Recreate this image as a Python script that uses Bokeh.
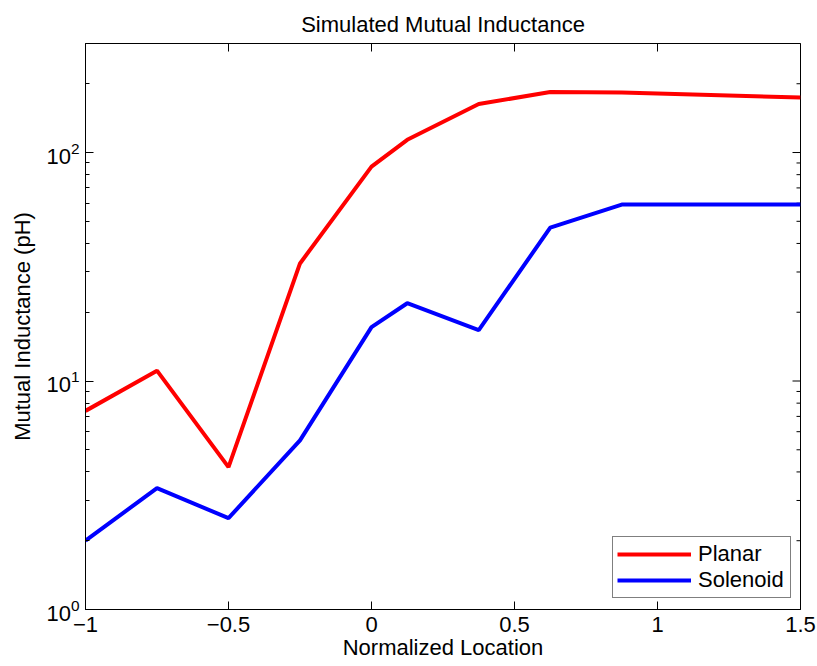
import math
from bokeh.plotting import figure
from bokeh.models import FixedTicker, Legend, LegendItem, Range1d
from bokeh.embed import file_html
from bokeh.resources import INLINE

# ---- data ----
x_location = [-1.0, -0.75, -0.5, -0.25, 0.0, 0.125, 0.375, 0.625, 0.875, 1.5]
planar = [7.4, 11.1, 4.2, 32.7, 86.8, 113.7, 163.0, 184.0, 183.0, 174.0]
solenoid = [2.0, 3.4, 2.51, 5.5, 17.2, 21.9, 16.7, 46.9, 59.2, 59.2]

x_ticks = [-1, -0.5, 0, 0.5, 1, 1.5]
y_ticks = [1, 10, 100]
y_minor_ticks = [2, 3, 4, 5, 6, 7, 8, 9, 20, 30, 40, 50, 60, 70, 80, 90, 200, 300]

X_MIN, X_MAX = -1, 1.5
Y_MIN, Y_MAX = 1, 300

FONT = "Liberation Sans"
FS = "22px"

p = figure(width=817, height=666, y_axis_type="log",
           x_range=Range1d(X_MIN, X_MAX), y_range=Range1d(Y_MIN, Y_MAX),
           output_backend="svg", toolbar_location=None,
           min_border_left=85, min_border_right=17,
           min_border_top=43, min_border_bottom=57)

p.title.text = "Simulated Mutual Inductance"
p.title.align = "center"
p.title.text_font = FONT
p.title.text_font_size = FS
p.title.text_font_style = "normal"
p.title.text_color = "black"
p.title.standoff = 14

p.xgrid.visible = False
p.ygrid.visible = False
p.outline_line_color = "black"
p.outline_line_width = 1
p.background_fill_color = "white"
p.border_fill_color = "white"


def style_axis(ax):
    ax.axis_line_color = "black"
    ax.axis_line_width = 1
    ax.major_tick_in = 8
    ax.major_tick_out = 0
    ax.minor_tick_in = 4
    ax.minor_tick_out = 0
    ax.major_tick_line_color = "black"
    ax.minor_tick_line_color = "black"
    ax.major_label_text_font = FONT
    ax.major_label_text_font_size = FS
    ax.major_label_text_color = "black"
    ax.axis_label_text_font = FONT
    ax.axis_label_text_font_size = FS
    ax.axis_label_text_font_style = "normal"
    ax.axis_label_text_color = "black"


xa = p.xaxis[0]
xa.ticker = FixedTicker(ticks=x_ticks, minor_ticks=[])
xa.axis_label = "Normalized Location"
style_axis(xa)
xa.major_label_standoff = 7
xa.axis_label_standoff = 0

ya = p.yaxis[0]
ya.ticker = FixedTicker(ticks=y_ticks, minor_ticks=y_minor_ticks)
ya.axis_label = "Mutual Inductance (pH)"
style_axis(ya)
ya.major_label_standoff = 6
ya.axis_label_standoff = 8

# mirrored ticks on the top and right edges (half of each dash is clipped by the frame)
p.scatter(x_ticks, [Y_MAX] * len(x_ticks), marker="dash", size=16, angle=math.pi / 2,
          line_color="black", line_width=1)
p.scatter([X_MAX] * len(y_ticks), y_ticks, marker="dash", size=16,
          line_color="black", line_width=1)
p.scatter([X_MAX] * len(y_minor_ticks), y_minor_ticks, marker="dash", size=8,
          line_color="black", line_width=1)

r1 = p.line(x_location, planar, line_color="#ff0000", line_width=4)
r2 = p.line(x_location, solenoid, line_color="#0000ff", line_width=4)

legend = Legend(items=[LegendItem(label="Planar", renderers=[r1]),
                       LegendItem(label="Solenoid", renderers=[r2])],
                location=(527, 11))
legend.glyph_width = 74
legend.glyph_height = 20
legend.label_standoff = 7
legend.label_width = 88
legend.padding = 4
legend.spacing = 0
legend.margin = 0
legend.border_line_color = "black"
legend.border_line_width = 1
legend.background_fill_color = "white"
legend.background_fill_alpha = 1
legend.label_text_font = FONT
legend.label_text_font_size = FS
legend.label_text_color = "black"
p.add_layout(legend)

open("out.html", "w").write(file_html(p, INLINE))
